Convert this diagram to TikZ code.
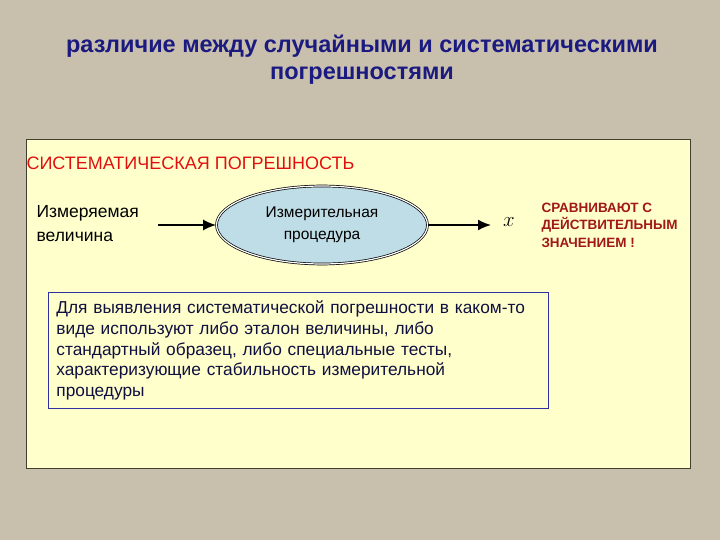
\documentclass[tikz,border=0pt]{standalone}
\usepackage{fontspec}
\setmainfont{Liberation Sans}
\usetikzlibrary{shapes.geometric}
\usetikzlibrary{arrows.meta}
\definecolor{paper}{HTML}{C9BFAD}
\definecolor{panel}{HTML}{FFFFCC}
\definecolor{bubble}{HTML}{BFDDE6}
\definecolor{titleblue}{HTML}{1A1A80}
\definecolor{errred}{HTML}{E01010}
\definecolor{noteRed}{HTML}{A01818}
\definecolor{boxblue}{HTML}{3030A0}
\definecolor{inkblue}{HTML}{101040}
\tikzstyle{title}=[align=center,text=titleblue,font=\bfseries\fontsize{23.5}{27}\selectfont]
\tikzstyle{label}=[align=left,anchor=west,font=\fontsize{17.5}{24}\selectfont]
\tikzstyle{procedure}=[ellipse,draw=black,line width=0.7pt,double=white,double distance=1.2pt,fill=bubble,minimum width=211pt,minimum height=78pt,align=center,font=\fontsize{15.5}{22}\selectfont]
\tikzstyle{flow}=[-{Latex[length=13pt,width=11pt]},draw=black,line width=1.8pt]
\tikzstyle{note}=[align=left,anchor=west,text=noteRed,font=\bfseries\fontsize{13.5}{17.5}\selectfont]
\tikzstyle{remark}=[draw=boxblue,line width=0.8pt,anchor=north west,text=inkblue,align=left,text width=484pt,inner xsep=8pt,inner ysep=5pt,minimum height=116pt,font=\fontsize{17.3}{20.7}\selectfont]

\begin{document}
\begin{tikzpicture}[x=1pt,y=-1pt]
	\useasboundingbox (0,0) rectangle (720,540);
	\fill [paper] (0,0) rectangle (720,540);
	\draw [fill=panel,draw=black!70!olive,line width=1pt] (26,140) rectangle (690,468);
	\node [style=title] (head) at (362,60) {различие между случайными и систематическими\\погрешностями};
	\node [anchor=west,text=errred,font=\fontsize{18}{22}\selectfont] (kind) at (23,163) {СИСТЕМАТИЧЕСКАЯ ПОГРЕШНОСТЬ};
	\node [style=label] (input) at (33,224) {Измеряемая\\величина};
	\node [style=procedure] (proc) at (322,225) {Измерительная\\процедура};
	\node [font=\fontsize{22}{22}\selectfont] (out) at (509,222) {$x$};
	\node [style=note] (cmp) at (538,225) {СРАВНИВАЮТ С\\ДЕЙСТВИТЕЛЬНЫМ\\ЗНАЧЕНИЕМ !};
	\node [style=remark] (hint) at (48,292) {Для выявления систематической погрешности в каком-то\\виде используют либо эталон величины, либо\\стандартный образец, либо специальные тесты,\\характеризующие стабильность измерительной\\процедуры};
	\coordinate (from) at (158,225);
	\coordinate (to) at (491,225);
	\draw [style=flow] (from) -- (proc.west);
	\draw [style=flow] (proc.east) -- (to);
\end{tikzpicture}
\end{document}
